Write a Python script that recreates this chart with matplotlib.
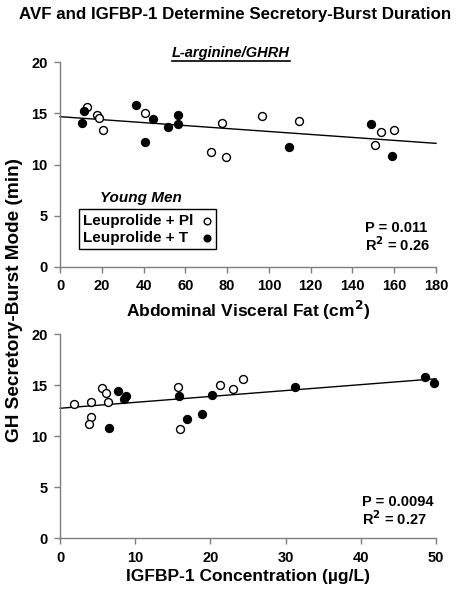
import matplotlib
matplotlib.use("Agg")
import matplotlib.pyplot as plt
from matplotlib.lines import Line2D
from matplotlib.patches import Rectangle

plt.rcParams['font.family'] = ['Liberation Sans', 'DejaVu Sans']
plt.rcParams['font.weight'] = 'bold'

# ---- Top panel: Abdominal visceral fat ----
avf_pl_x = [13.1, 17.6, 18.8, 20.4, 40.7, 77.4, 72.1, 79.5, 96.7, 114.4, 153.9, 159.8, 151.0]
avf_pl_y = [15.6, 14.8, 14.55, 13.4, 15.0, 14.1, 11.2, 10.7, 14.7, 14.25, 13.2, 13.4, 11.9]
avf_t_x = [11.7, 10.5, 36.4, 44.4, 40.5, 51.7, 56.7, 56.7, 109.5, 149.1, 158.8]
avf_t_y = [15.2, 14.1, 15.8, 14.45, 12.2, 13.67, 14.8, 14.0, 11.7, 14.0, 10.8]
avf_fit_x = [0, 180]
avf_fit_y = [14.68, 12.07]
avf_xticks = [0, 20, 40, 60, 80, 100, 120, 140, 160, 180]

# ---- Bottom panel: IGFBP-1 ----
igf_pl_x = [1.86, 4.17, 4.17, 3.86, 5.63, 6.07, 6.38, 15.74, 16.0, 21.23, 23.0, 24.4]
igf_pl_y = [13.15, 13.37, 11.84, 11.16, 14.68, 14.25, 13.37, 14.78, 10.67, 14.97, 14.58, 15.56]
igf_t_x = [6.56, 7.76, 8.73, 8.56, 15.87, 16.93, 18.84, 20.21, 31.25, 48.6, 49.7]
igf_t_y = [10.76, 14.45, 13.96, 13.63, 13.93, 11.65, 12.17, 14.06, 14.78, 15.76, 15.17]
igf_fit_x = [0, 50]
igf_fit_y = [12.73, 15.62]
igf_xticks = [0, 10, 20, 30, 40, 50]

yticks = [0, 5, 10, 15, 20]
legend_labels = ['Leuprolide + Pl', 'Leuprolide + T']

fig = plt.figure(figsize=(4.61, 6.0), dpi=100)
W, H = 461, 600

def ax_rect(left, top, right, bottom):
    return [left / W, 1 - bottom / H, (right - left) / W, (bottom - top) / H]

ax1 = fig.add_axes(ax_rect(60, 62.3, 436, 266.7))
ax2 = fig.add_axes(ax_rect(60, 334, 436, 538.3))

spine_col = '#7f7f7f'
msize = 5.7

def style(ax, xmax, xticks):
    ax.set_xlim(0, xmax)
    ax.set_ylim(0, 20)
    ax.set_xticks(xticks)
    ax.set_yticks(yticks)
    for s in ['top', 'right']:
        ax.spines[s].set_visible(False)
    for s in ['left', 'bottom']:
        ax.spines[s].set_color(spine_col)
        ax.spines[s].set_linewidth(1.0)
    ax.tick_params(direction='out', length=4, width=1.0, color=spine_col,
                   labelsize=10.5, pad=5)
    for lab in ax.get_xticklabels() + ax.get_yticklabels():
        lab.set_fontweight('bold')
    ax.patch.set_alpha(0)

style(ax1, 180, avf_xticks)
style(ax2, 50, igf_xticks)

for ax, fx, fy, px, py, tx, ty in [
    (ax1, avf_fit_x, avf_fit_y, avf_pl_x, avf_pl_y, avf_t_x, avf_t_y),
    (ax2, igf_fit_x, igf_fit_y, igf_pl_x, igf_pl_y, igf_t_x, igf_t_y),
]:
    ax.plot(fx, fy, color='black', lw=1.0, zorder=2, clip_on=False)
    ax.plot(px, py, 'o', ms=msize, mfc='white', mec='black', mew=1.0, ls='none', zorder=3, clip_on=False)
    ax.plot(tx, ty, 'o', ms=msize, mfc='black', mec='black', mew=1.0, ls='none', zorder=3, clip_on=False)

ax1.set_xlabel('Abdominal Visceral Fat (cm$^\\mathbf{2}$)', fontsize=12.5, fontweight='bold', labelpad=4)
ax2.set_xlabel('IGFBP-1 Concentration (µg/L)', fontsize=12.5, fontweight='bold', labelpad=3)

fig.text(15 / W, 1 - 300 / H, 'GH Secretory-Burst Mode (min)', rotation=90,
         ha='center', va='center', fontsize=13.7, fontweight='bold')

fig.text(235 / W, 1 - 15 / H, 'AVF and IGFBP-1 Determine Secretory-Burst Duration',
         ha='center', va='center', fontsize=12.2, fontweight='bold')

sub = fig.text(231 / W, 1 - 53 / H, 'L-arginine/GHRH', ha='center', va='center',
               fontsize=10.5, fontweight='bold', style='italic')

# Stats text
ax1.text(0.811, 0.189, 'P = 0.011', transform=ax1.transAxes, fontsize=10.5, fontweight='bold', va='center')
ax1.text(0.811, 0.106, 'R$^\\mathbf{2}$ = 0.26', transform=ax1.transAxes, fontsize=10.5, fontweight='bold', va='center')
ax2.text(0.803, 0.178, 'P = 0.0094', transform=ax2.transAxes, fontsize=10.5, fontweight='bold', va='center')
ax2.text(0.803, 0.094, 'R$^\\mathbf{2}$ = 0.27', transform=ax2.transAxes, fontsize=10.5, fontweight='bold', va='center')

# Legend (drawn manually: left-aligned labels, markers at right)
fig.add_artist(Rectangle((79 / W, 1 - 249 / H), (216 - 79) / W, (249 - 209) / H,
                         transform=fig.transFigure, fill=False, edgecolor='black', lw=1.0))
for lab, yc, fc in zip(legend_labels, [221, 238], ['white', 'black']):
    fig.text(83 / W, 1 - yc / H, lab, ha='left', va='center', fontsize=11, fontweight='bold')
    fig.add_artist(Line2D([207 / W], [1 - yc / H], marker='o', ms=4.8, mfc=fc, mec='black',
                          mew=1.0, ls='none', transform=fig.transFigure))
fig.text(141 / W, 1 - 198 / H, 'Young Men', ha='center', va='center', fontsize=11,
         fontweight='bold', style='italic')

# underline subtitle
fig.canvas.draw()
bb = sub.get_window_extent().transformed(fig.transFigure.inverted())
fig.add_artist(Line2D([bb.x0, bb.x1], [bb.y0 - 0.002, bb.y0 - 0.002], color='black', lw=1.2,
                      transform=fig.transFigure))

fig.savefig('out.png', dpi=100)
